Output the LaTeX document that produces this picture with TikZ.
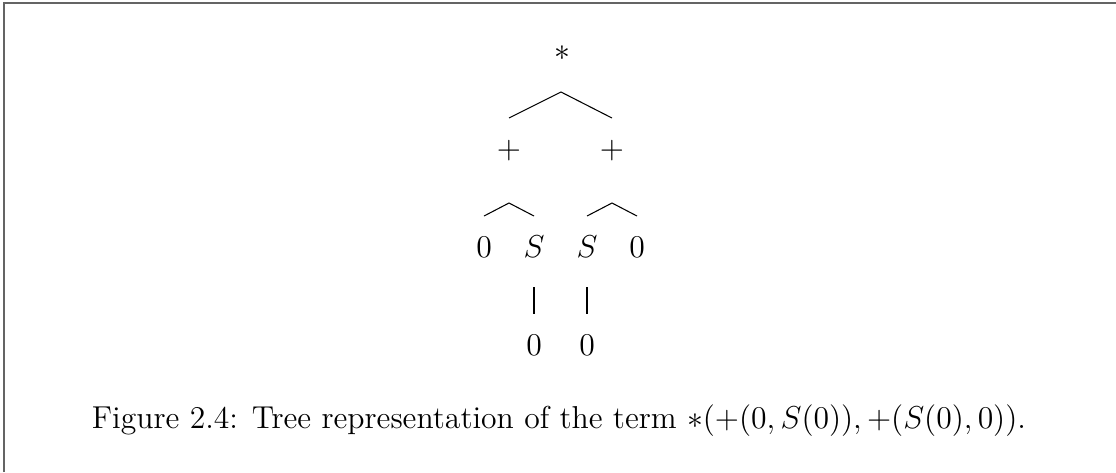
\documentclass[12pt,tikz,border=0pt]{standalone}
\usetikzlibrary{positioning,calc}
\definecolor{frameGray}{HTML}{646464}
\tikzset{
    term/.style={inner sep=1pt, font=\normalsize},
    branch/.style={thin, draw=black},
    frameline/.style={line width=0.4pt, draw=frameGray}
}
\begin{document}
\begin{tikzpicture}[x=0.3788pt, y=-0.3788pt]
    \useasboundingbox (0,0) rectangle (1116,472);
    \draw[frameline] (4,472) -- (4,3) -- (1116,3);

    % nodes of the tree
    \node[term] (root) at (562,53) {$*$};
    \node[term] (plusL) at (509,151) {$+$};
    \node[term] (plusR) at (612,151) {$+$};
    \node[term] (zeroA) at (484,247) {$0$};
    \node[term] (succL) at (534,247) {$S$};
    \node[term] (succR) at (587,247) {$S$};
    \node[term] (zeroB) at (637,247) {$0$};
    \node[term] (zeroC) at (534,345) {$0$};
    \node[term] (zeroD) at (587,345) {$0$};

    % roofs under the function symbols
    \coordinate (rootFork) at ($(root)+(-1,39)$);
    \coordinate (plusLFork) at ($(plusL)+(0,52)$);
    \coordinate (plusRFork) at ($(plusR)+(0,52)$);
    \coordinate (succLFork) at ($(succL)+(0,40)$);
    \coordinate (succRFork) at ($(succR)+(0,40)$);

    \draw[branch] (plusL |- 0,118) -- (rootFork) -- (plusR |- 0,118);
    \draw[branch] (zeroA |- 0,216) -- (plusLFork) -- (succL |- 0,216);
    \draw[branch] (succR |- 0,216) -- (plusRFork) -- (zeroB |- 0,216);
    \draw[branch] (succLFork) -- (zeroC |- 0,314);
    \draw[branch] (succRFork) -- (zeroD |- 0,314);

    \node (caption) at (559,421)
        {Figure 2.4: Tree representation of the term $*(+(0,S(0)),+(S(0),0))$.};
\end{tikzpicture}
\end{document}
